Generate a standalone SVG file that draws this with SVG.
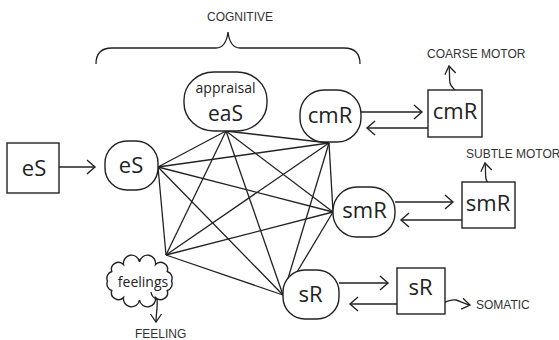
<svg xmlns="http://www.w3.org/2000/svg" width="559" height="340" viewBox="0 0 559 340">
  <style>
    .shape { fill: #fff; stroke: #222; stroke-width: 1.4; }
    .edge { fill: none; stroke: #222; stroke-width: 1.3; }
    .lbl { font-family: "Open Sans", "Noto Sans", sans-serif; font-size: 22px; fill: #222; text-anchor: middle; }
    .small { font-family: "Open Sans", "Noto Sans", sans-serif; font-size: 14px; fill: #222; text-anchor: middle; }
    .cap { font-family: "Liberation Sans", Arial, sans-serif; font-size: 12px; fill: #333; }
  </style>
  <defs>
    <marker id="chev" viewBox="-10 -8 12 16" markerWidth="12" markerHeight="16" refX="0" refY="0" markerUnits="userSpaceOnUse" orient="auto">
      <path d="M-8,-7 L0,0 L-8,7" fill="none" stroke="#222" stroke-width="1.4"/>
    </marker>
    <marker id="chevS" viewBox="-10 -8 12 16" markerWidth="12" markerHeight="16" refX="0" refY="0" markerUnits="userSpaceOnUse" orient="auto">
      <path d="M-8,-5.5 L0,0 L-8,5.5" fill="none" stroke="#222" stroke-width="1.3"/>
    </marker>
  </defs>

  <rect width="559" height="340" fill="#fff"/>

  <!-- brace over the cognitive group -->
  <g id="cognitive">
    <path class="edge" d="M96,64 Q96,48 112,48 L216,48 Q226,48 228,32 Q230,48 240,48 L344,48 Q360,48 360,64"/>
    <text class="cap" x="207" y="21">COGNITIVE</text>
  </g>

  <!-- all-to-all links between the inner nodes -->
  <g id="connectors">
    <path class="edge" d="M158,167 L226,131"/>
    <path class="edge" d="M158,167 L329,143"/>
    <path class="edge" d="M158,167 L333,212"/>
    <path class="edge" d="M158,167 L283,295"/>
    <path class="edge" d="M158,167 L166,255"/>
    <path class="edge" d="M226,131 L329,143"/>
    <path class="edge" d="M226,131 L333,212"/>
    <path class="edge" d="M226,131 L283,295"/>
    <path class="edge" d="M226,131 L166,255"/>
    <path class="edge" d="M329,143 L333,212"/>
    <path class="edge" d="M329,143 L283,295"/>
    <path class="edge" d="M329,143 L166,255"/>
    <path class="edge" d="M333,212 L297,272"/>
    <path class="edge" d="M333,212 L166,255"/>
    <path class="edge" d="M283,295 L166,255"/>

    <!-- input and output arrows -->
    <path class="edge" d="M59,167 L95,167" marker-end="url(#chev)"/>
    <path class="edge" d="M361,112 L422,112" marker-end="url(#chev)"/>
    <path class="edge" d="M428,128 L367,128" marker-end="url(#chev)"/>
    <path class="edge" d="M395,202 L453,202" marker-end="url(#chev)"/>
    <path class="edge" d="M462,220 L401,220" marker-end="url(#chev)"/>
    <path class="edge" d="M339,283 L388,283" marker-end="url(#chev)"/>
    <path class="edge" d="M397,304 L350,304" marker-end="url(#chev)"/>

    <!-- wavy outputs -->
    <path class="edge" d="M457,94 C456,89 451,88 450,83 C449,78 450,72 449,66" marker-end="url(#chevS)"/>
    <path class="edge" d="M493,191 C492,186 487,184 486,179 C485,174 486,169 485,163" marker-end="url(#chevS)"/>
    <path class="edge" d="M437,298 Q439,303 445,302 C450,301 452,299 456,300 C460,301 464,304 470,305" marker-end="url(#chevS)"/>
    <path class="edge" d="M151,292 Q152,298 157,299 C158,305 156,314 156,322" marker-end="url(#chevS)"/>
  </g>

  <g id="eS-in">
    <rect class="shape" x="7" y="143" width="52" height="50"/>
    <text class="lbl" x="34" y="176">eS</text>
  </g>

  <g id="eS">
    <rect class="shape" x="105" y="141" width="53" height="49" rx="22" ry="22"/>
    <text class="lbl" x="131" y="173">eS</text>
  </g>

  <g id="eaS">
    <rect class="shape" x="184" y="72" width="83" height="59" rx="30" ry="28"/>
    <text class="small" x="225.5" y="93">appraisal</text>
    <text class="lbl" x="225.5" y="121" style="font-size:21px">eaS</text>
  </g>

  <g id="cmR">
    <rect class="shape" x="300" y="90" width="61" height="52" rx="24" ry="24"/>
    <text class="lbl" x="330" y="123">cmR</text>
  </g>

  <g id="cmR-out">
    <rect class="shape" x="428" y="90" width="54" height="47"/>
    <text class="lbl" x="455" y="119">cmR</text>
    <text class="cap" x="427" y="58">COARSE MOTOR</text>
  </g>

  <g id="smR">
    <rect class="shape" x="333" y="187" width="62" height="50" rx="24" ry="24"/>
    <text class="lbl" x="364.5" y="218">smR</text>
  </g>

  <g id="smR-out">
    <rect class="shape" x="462" y="182" width="53" height="46"/>
    <text class="lbl" x="488" y="211">smR</text>
    <text class="cap" x="466" y="158">SUBTLE MOTOR</text>
  </g>

  <g id="sR">
    <rect class="shape" x="283" y="270" width="56" height="49" rx="22" ry="22"/>
    <text class="lbl" x="310.5" y="302">sR</text>
  </g>

  <g id="sR-out">
    <rect class="shape" x="397" y="268" width="48" height="46"/>
    <text class="lbl" x="420.5" y="295">sR</text>
    <text class="cap" x="476" y="309">SOMATIC</text>
  </g>

  <g id="feelings">
    <path class="shape" d="M171.5,281 A7,7 0 0 1 167.2,290.5 A7,7 0 0 1 155.5,297.5 A7,7 0 0 1 139.5,300 A7,7 0 0 1 123.5,297.5 A7,7 0 0 1 111.8,290.5 A7,7 0 0 1 107.5,281 A7,7 0 0 1 111.8,271.5 A7,7 0 0 1 123.5,264.5 A7,7 0 0 1 139.5,262 A7,7 0 0 1 155.5,264.5 A7,7 0 0 1 167.2,271.5 A7,7 0 0 1 171.5,281 Z"/>
    <text class="small" x="143" y="287">feelings</text>
    <path class="edge" d="M151,292 Q152,298 157,299"/>
    <text class="cap" x="135" y="337.5">FEELING</text>
  </g>
</svg>
